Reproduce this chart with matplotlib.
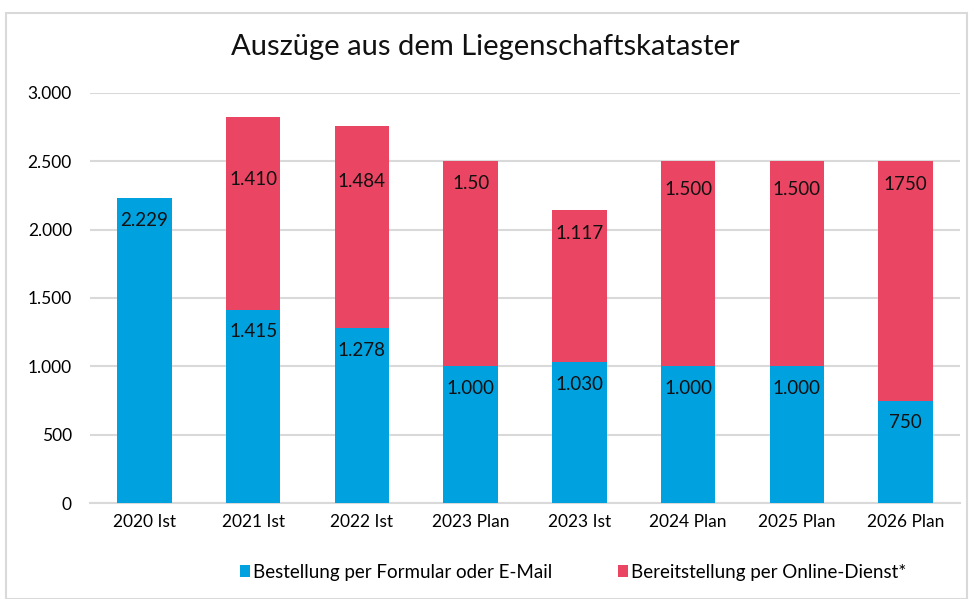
import matplotlib
matplotlib.use("Agg")
import matplotlib.pyplot as plt
from matplotlib.patches import Rectangle
import numpy as np

plt.rcParams['font.family'] = ['Lato', 'DejaVu Sans']

categories = ["2020 Ist", "2021 Ist", "2022 Ist", "2023 Plan", "2023 Ist", "2024 Plan", "2025 Plan", "2026 Plan"]
formular = [2229, 1415, 1278, 1000, 1030, 1000, 1000, 750]
online = [0, 1410, 1484, 1500, 1117, 1500, 1500, 1750]
formular_labels = ["2.229", "1.415", "1.278", "1.000", "1.030", "1.000", "1.000", "750"]
online_labels = ["", "1.410", "1.484", "1.50", "1.117", "1.500", "1.500", "1750"]
series_names = ["Bestellung per Formular oder E-Mail", "Bereitstellung per Online-Dienst*"]
yticks = [0, 500, 1000, 1500, 2000, 2500, 3000]
ytick_labels = ["0", "500", "1.000", "1.500", "2.000", "2.500", "3.000"]
title = "Auszüge aus dem Liegenschaftskataster"

# label offsets below segment top (points) - styling
online_offsets = [0, 45, 40, 16, 17, 20, 20, 17]

blue = "#00A1DF"
red = "#EA4563"

fig = plt.figure(figsize=(9.71, 5.99), dpi=100)
fig.patches.append(Rectangle((0.006, 0.0), 0.99, 0.978, transform=fig.transFigure,
                             fill=False, edgecolor="#D9D9D9", linewidth=1.5))
ax = fig.add_axes([90/971, 96/599, 870/971, 410/599])
x = np.arange(len(categories))
w = 0.5
ax.bar(x, formular, w, color=blue, label=series_names[0], zorder=3)
ax.bar(x, online, w, bottom=formular, color=red, label=series_names[1], zorder=3)

for i in range(len(categories)):
    ax.annotate(formular_labels[i], (x[i], formular[i]), xytext=(0, -16), textcoords="offset points",
                ha="center", va="center", fontsize=13.5, color="#111111", zorder=4)
    if online_labels[i]:
        ax.annotate(online_labels[i], (x[i], formular[i] + online[i]), xytext=(0, -online_offsets[i]),
                    textcoords="offset points", ha="center", va="center", fontsize=13.5,
                    color="#111111", zorder=4)

ax.set_ylim(0, 3000)
ax.set_xlim(-0.5, len(categories) - 0.5)
ax.set_yticks(yticks)
ax.set_yticklabels(ytick_labels, fontsize=12.5)
ax.set_xticks(x)
ax.set_xticklabels(categories, fontsize=12.5)
ax.tick_params(length=0, pad=8)
ax.tick_params(axis="y", pad=13)
for lbl in ax.get_yticklabels():
    lbl.set_horizontalalignment("right")
ax.grid(axis="y", color="#D9D9D9", linewidth=1.5, zorder=0)
for s in ["top", "right", "left"]:
    ax.spines[s].set_visible(False)
ax.spines["bottom"].set_color("#D9D9D9")
ax.spines["bottom"].set_linewidth(1.5)

fig.text(0.5, 0.921, title, ha="center", va="center", fontsize=21, color="#111111")

fig.legend(loc="center", bbox_to_anchor=(0.59, 0.045), ncol=2, frameon=False, fontsize=13.5,
           handlelength=0.55, handleheight=0.55, handletextpad=0.15, columnspacing=3.5)

fig.savefig("out.png", dpi=100)
